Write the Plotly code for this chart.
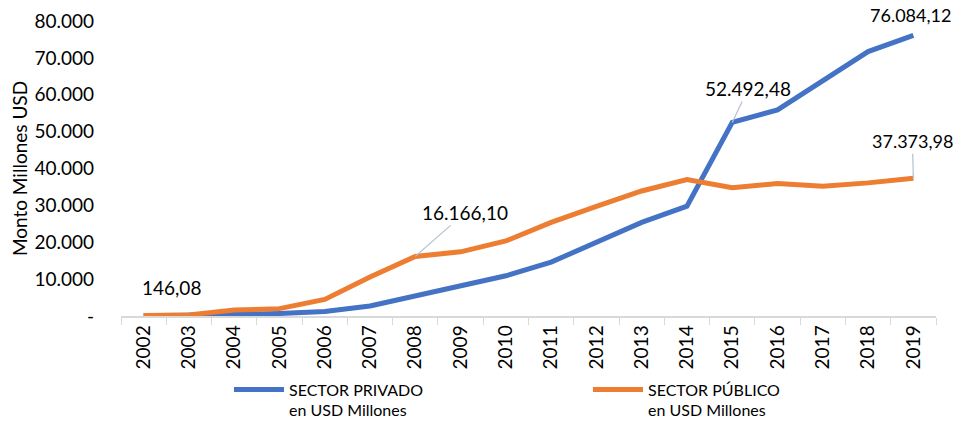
import plotly.graph_objects as go

years = [str(y) for y in range(2002, 2020)]
privado = [50, 120, 400, 700, 1200, 2700, 5500, 8200, 10900, 14600, 20000, 25400, 29800,
           52492.48, 55900, 64000, 71700, 76084.12]
publico = [146.08, 300, 1600, 2000, 4500, 10600, 16166.10, 17400, 20350, 25400, 29700, 33900, 37000,
           34800, 35900, 35200, 36100, 37373.98]
ytick_vals = [0, 10000, 20000, 30000, 40000, 50000, 60000, 70000, 80000]
ytick_text = ["-", "10.000", "20.000", "30.000", "40.000", "50.000", "60.000", "70.000", "80.000"]

FONT = "Lato, 'Open Sans', sans-serif"
BLUE = "#4472C4"
ORANGE = "#ED7D31"

fig = go.Figure()
fig.add_trace(go.Scatter(x=years, y=privado, mode="lines", name="SECTOR PRIVADO<br>en USD Millones",
                         line=dict(color=BLUE, width=5), cliponaxis=False, legend="legend"))
fig.add_trace(go.Scatter(x=years, y=publico, mode="lines", name="SECTOR PÚBLICO<br>en USD Millones",
                         line=dict(color=ORANGE, width=5), cliponaxis=False, legend="legend2"))

def fmt(v):
    s = f"{v:,.2f}"
    return s.replace(",", "X").replace(".", ",").replace("X", ".")

lead = "#B4C0CC"
afont = dict(size=19, color="#000", family=FONT)
rfont = dict(size=18, color="#000", family=FONT)
# labels (x given as category index)
fig.add_annotation(x=0, y=publico[0], xref="x", yref="y", text=fmt(publico[0]), showarrow=False,
                   xshift=28, yshift=28, font=afont)
fig.add_annotation(x=6, y=publico[6], xref="x", yref="y", text=fmt(publico[6]), showarrow=True,
                   ax=50, ay=-44, arrowhead=0, arrowwidth=1.2, arrowcolor=lead, font=afont)
fig.add_annotation(x=13, y=privado[13], xref="x", yref="y", text=fmt(privado[13]), showarrow=True,
                   ax=16, ay=-34, arrowhead=0, arrowwidth=1.2, arrowcolor=lead, font=afont)
fig.add_annotation(x=17, y=privado[17], xref="x", yref="y", text=fmt(privado[17]), showarrow=False,
                   yshift=20, xshift=-3, font=rfont)
fig.add_annotation(x=17, y=publico[17], xref="x", yref="y", text=fmt(publico[17]), showarrow=True,
                   ax=-1, ay=-37, arrowhead=0, arrowwidth=1.2, arrowcolor=lead, font=rfont)

legfont = dict(size=16, color="#000", family=FONT)
fig.update_layout(
    width=962, height=431,
    margin=dict(l=113, r=34, t=13, b=115),
    paper_bgcolor="white", plot_bgcolor="white",
    font=dict(family=FONT, size=19, color="#000"),
    showlegend=True,
    legend=dict(orientation="h", x=0.1325, xanchor="left", y=-0.378, yanchor="bottom",
                valign="top", font=legfont, itemwidth=50),
    legend2=dict(orientation="h", x=0.573, xanchor="left", y=-0.378, yanchor="bottom",
                 valign="top", font=legfont, itemwidth=50),
    xaxis=dict(type="category", range=[-0.5, 17.5], tickangle=-90, ticks="outside",
               tickson="boundaries", ticklen=7, tickcolor="#D9D9D9", showline=True,
               linecolor="#D9D9D9", linewidth=1.5, showgrid=False, zeroline=False,
               automargin=False, tickfont=dict(size=19, family=FONT)),
    yaxis=dict(range=[0, 80000], tickvals=ytick_vals, ticktext=ytick_text, showgrid=False,
               zeroline=False, showline=False, ticks="", ticklabelstandoff=26, automargin=False,
               title=dict(text="Monto Millones USD", font=dict(size=19, family=FONT), standoff=3),
               tickfont=dict(size=19, family=FONT)),
)

fig.write_html("out.html")
